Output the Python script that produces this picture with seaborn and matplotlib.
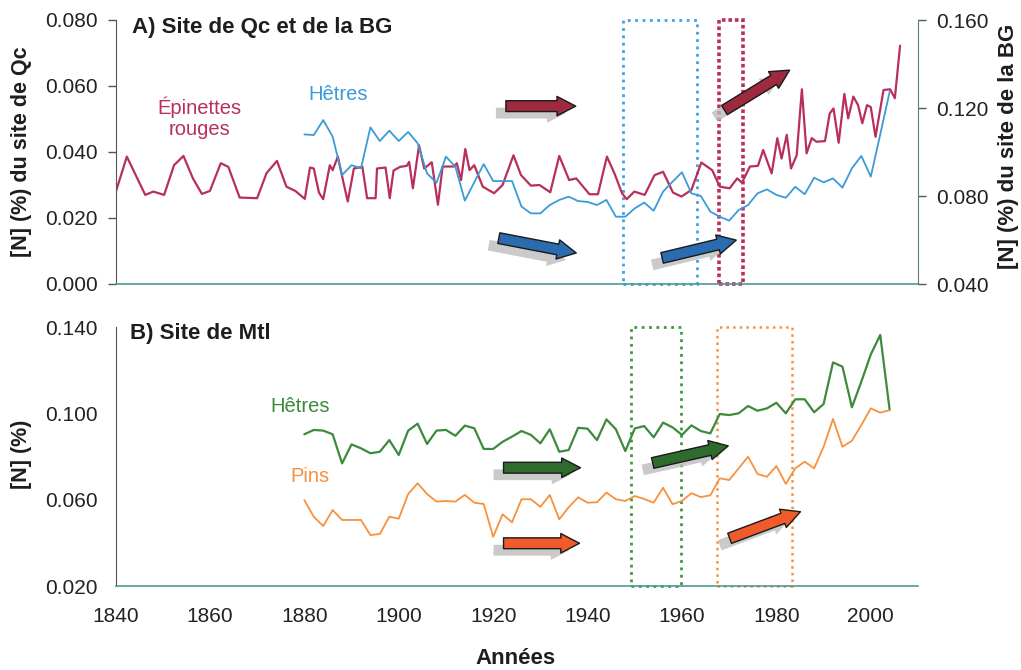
import matplotlib
matplotlib.use("Agg")
import matplotlib.pyplot as plt
import seaborn as sns
import numpy as np
from matplotlib.patches import FancyArrowPatch
from matplotlib.ticker import FormatStrFormatter
from matplotlib.transforms import offset_copy

# ---------------- Panel A : Qc site (red spruce) and BG site (beech) ----------------
spruce_years = [1840.0, 1842.4, 1846.3, 1848.0, 1850.3, 1852.4, 1854.4, 1856.4, 1858.3, 1860.0,
                1862.3, 1863.9, 1866.3, 1870.0, 1872.0, 1874.2, 1876.2, 1878.1, 1880.1, 1881.2,
                1882.0, 1883.1, 1884.0, 1885.4, 1886.0, 1887.1, 1888.3, 1889.2, 1890.5, 1892.3,
                1893.3, 1895.1, 1895.4, 1897.2, 1898.1, 1898.9, 1900.3, 1901.7, 1902.2, 1903.0,
                1904.3, 1905.4, 1907.0, 1908.3, 1909.3, 1911.7, 1912.3, 1913.2, 1914.1, 1915.0,
                1916.0, 1917.8, 1920.2, 1922.0, 1924.3, 1925.9, 1928.0, 1929.8, 1932.1, 1934.0,
                1936.1, 1937.6, 1940.4, 1942.2, 1944.1, 1945.7, 1947.3, 1948.3, 1949.9, 1952.1,
                1954.2, 1956.0, 1958.1, 1959.9, 1962.0, 1964.1, 1966.4, 1968.0, 1970.1, 1971.7,
                1972.7, 1974.4, 1976.1, 1977.2, 1979.0, 1980.2, 1981.1, 1982.2, 1983.1, 1984.3,
                1985.4, 1986.4, 1987.5, 1988.5, 1990.3, 1991.3, 1992.1, 1993.2, 1994.4, 1995.2,
                1996.3, 1997.3, 1998.2, 1999.2, 2000.0, 2001.0, 2002.7, 2004.1, 2005.1, 2006.2]
spruce_n = [0.0276, 0.0386, 0.0270, 0.0280, 0.0270, 0.0360, 0.0388, 0.0320, 0.0273, 0.0282,
            0.0366, 0.0355, 0.0262, 0.0260, 0.0336, 0.0373, 0.0295, 0.0282, 0.0258, 0.0353,
            0.0350, 0.0277, 0.0257, 0.0360, 0.0345, 0.0386, 0.0307, 0.0250, 0.0350, 0.0355,
            0.0260, 0.0260, 0.0350, 0.0353, 0.0260, 0.0344, 0.0355, 0.0358, 0.0370, 0.0290,
            0.0420, 0.0350, 0.0369, 0.0240, 0.0356, 0.0356, 0.0366, 0.0315, 0.0409, 0.0345,
            0.0360, 0.0295, 0.0275, 0.0300, 0.0390, 0.0330, 0.0298, 0.0300, 0.0278, 0.0388,
            0.0315, 0.0320, 0.0272, 0.0272, 0.0386, 0.0335, 0.0275, 0.0257, 0.0280, 0.0270,
            0.0330, 0.0340, 0.0277, 0.0265, 0.0285, 0.0368, 0.0345, 0.0295, 0.0290, 0.0320,
            0.0307, 0.0356, 0.0358, 0.0406, 0.0335, 0.0442, 0.0380, 0.0452, 0.0350, 0.0390,
            0.0590, 0.0396, 0.0442, 0.0431, 0.0433, 0.0517, 0.0532, 0.0428, 0.0576, 0.0502,
            0.0568, 0.0542, 0.0487, 0.0542, 0.0536, 0.0446, 0.0588, 0.0590, 0.0563, 0.0722]

beech_years = list(range(1880, 2005, 2))
beech_bg_n = [0.1080, 0.1077, 0.1145, 0.1070, 0.0895, 0.0940, 0.0926, 0.1112, 0.1050, 0.1097,
              0.1050, 0.1091, 0.1040, 0.0903, 0.0860, 0.0979, 0.0933, 0.0779, 0.0862, 0.0945,
              0.0868, 0.0868, 0.0868, 0.0752, 0.0721, 0.0721, 0.0759, 0.0782, 0.0797, 0.0777,
              0.0773, 0.0759, 0.0782, 0.0706, 0.0706, 0.0744, 0.0770, 0.0733, 0.0820, 0.0865,
              0.0908, 0.0812, 0.0800, 0.0729, 0.0706, 0.0688, 0.0736, 0.0759, 0.0812, 0.0830,
              0.0805, 0.0792, 0.0842, 0.0808, 0.0883, 0.0862, 0.0880, 0.0838, 0.0926, 0.0982,
              0.0888, 0.1080, 0.1274]

# ---------------- Panel B : Mtl site (beech and pine) ----------------
mtl_years = list(range(1880, 2005, 2))
beech_mtl_n = [0.0903, 0.0923, 0.0920, 0.0903, 0.0768, 0.0856, 0.0838, 0.0815, 0.0822, 0.0876,
               0.0807, 0.0920, 0.0952, 0.0858, 0.0920, 0.0923, 0.0896, 0.0943, 0.0931, 0.0835,
               0.0835, 0.0868, 0.0892, 0.0918, 0.0900, 0.0861, 0.0926, 0.0822, 0.0830, 0.0933,
               0.0929, 0.0876, 0.0972, 0.0926, 0.0825, 0.0930, 0.0941, 0.0889, 0.0957, 0.0935,
               0.0900, 0.0944, 0.0918, 0.0907, 0.0997, 0.0992, 0.1000, 0.1034, 0.1012, 0.1023,
               0.1049, 0.1000, 0.1065, 0.1065, 0.1005, 0.1043, 0.1236, 0.1216, 0.1028, 0.1147,
               0.1273, 0.1363, 0.1015]
pine_mtl_n = [0.0598, 0.0521, 0.0478, 0.0552, 0.0506, 0.0506, 0.0506, 0.0436, 0.0441, 0.0521,
              0.0512, 0.0626, 0.0676, 0.0626, 0.0591, 0.0594, 0.0591, 0.0622, 0.0586, 0.0580,
              0.0428, 0.0532, 0.0495, 0.0602, 0.0602, 0.0567, 0.0622, 0.0509, 0.0565, 0.0611,
              0.0586, 0.0588, 0.0633, 0.0602, 0.0594, 0.0617, 0.0603, 0.0586, 0.0655, 0.0579,
              0.0594, 0.0630, 0.0612, 0.0620, 0.0699, 0.0691, 0.0745, 0.0799, 0.0719, 0.0706,
              0.0756, 0.0673, 0.0745, 0.0776, 0.0745, 0.0845, 0.0974, 0.0845, 0.0873, 0.0946,
              0.1023, 0.1003, 0.1015]

year_ticks = [1840, 1860, 1880, 1900, 1920, 1940, 1960, 1980, 2000]
qc_ticks = [0.000, 0.020, 0.040, 0.060, 0.080]
bg_ticks = [0.040, 0.080, 0.120, 0.160]
mtl_ticks = [0.020, 0.060, 0.100, 0.140]

# Highlighted periods (start year, end year)
span_beech_bg = (1947.5, 1963.2)
span_spruce = (1967.8, 1973.0)
span_beech_mtl = (1949.2, 1959.7)
span_pine = (1967.5, 1983.4)

# Trend arrows: (start year, start value), (end year, end value), fill colour
arrows_a = [((1922.7, 0.0539), (1937.5, 0.0539), "#9e2a3e"),
            ((1969.0, 0.0527), (1982.8, 0.0648), "#9e2a3e"),
            ((1921.2, 0.0139), (1937.6, 0.0094), "#2b6cb0"),
            ((1955.8, 0.0079), (1971.5, 0.0133), "#2b6cb0")]
arrows_b = [((1922.2, 0.0748), (1938.5, 0.0748), "#2e6b2e"),
            ((1953.8, 0.0770), (1969.8, 0.0849), "#2e6b2e"),
            ((1922.2, 0.0398), (1938.3, 0.0398), "#f15a2b"),
            ((1970.1, 0.0421), (1985.1, 0.0544), "#f15a2b")]

RED = "#b8305a"
BLUE = "#3b9bd8"
GREEN = "#3d8a3d"
ORANGE = "#f7913d"
SPINE = "#555555"
BASE = "#4d9a96"

sns.set_style("white")
plt.rcParams['font.family'] = ['Liberation Sans', 'DejaVu Sans']

W_PX, H_PX = 1021, 670
fig = plt.figure(figsize=(W_PX / 100, H_PX / 100), dpi=100)
left = 115.5 / W_PX
width = (918 - 115.5) / W_PX
ax_a = fig.add_axes([left, 1 - 284 / H_PX, width, 264 / H_PX])
ax_b = fig.add_axes([left, 1 - 586 / H_PX, width, 259 / H_PX])
ax_a2 = ax_a.twinx()

# lines
sns.lineplot(x=spruce_years, y=spruce_n, ax=ax_a, color=RED, linewidth=1.6, legend=False)
sns.lineplot(x=beech_years, y=beech_bg_n, ax=ax_a2, color=BLUE, linewidth=1.3, legend=False)
sns.lineplot(x=mtl_years, y=beech_mtl_n, ax=ax_b, color=GREEN, linewidth=1.6, legend=False)
sns.lineplot(x=mtl_years, y=pine_mtl_n, ax=ax_b, color=ORANGE, linewidth=1.3, legend=False)

# dotted period boxes
ax_a.axvspan(*span_beech_bg, fill=False, edgecolor="#3aa3e3", linestyle=":", linewidth=2.0, clip_on=False, zorder=1)
ax_a.axvspan(*span_spruce, fill=False, edgecolor="#b8305a", linestyle=(0, (1, 0.8)), linewidth=2.6, clip_on=False, zorder=1)
ax_b.axvspan(*span_beech_mtl, fill=False, edgecolor="#3d9a3d", linestyle=":", linewidth=2.0, clip_on=False, zorder=1)
ax_b.axvspan(*span_pine, fill=False, edgecolor="#f7913d", linestyle=":", linewidth=1.8, clip_on=False, zorder=1)


def trend_arrow(host, tr, p0, p1, face):
    style = "simple,head_width=1.4,head_length=1.35,tail_width=0.78"
    shadow_tr = offset_copy(tr, fig=fig, x=-10, y=-7, units='dots')
    shadow = FancyArrowPatch(p0, p1, arrowstyle=style, mutation_scale=10, transform=shadow_tr,
                             facecolor="#bdbdbd", edgecolor="none", alpha=0.8,
                             shrinkA=0, shrinkB=0, zorder=8)
    arrow = FancyArrowPatch(p0, p1, arrowstyle=style, mutation_scale=10, transform=tr,
                            facecolor=face, edgecolor="#1a1a1a", linewidth=1.0,
                            shrinkA=0, shrinkB=0, zorder=9)
    host.add_patch(shadow)
    host.add_patch(arrow)


for p0, p1, c in arrows_a:
    trend_arrow(ax_a2, ax_a.transData, p0, p1, c)
for p0, p1, c in arrows_b:
    trend_arrow(ax_b, ax_b.transData, p0, p1, c)

# axes limits and ticks
for ax in (ax_a, ax_a2, ax_b):
    ax.set_xlim(1840, 2010)
    ax.set_xticks(year_ticks)
    ax.set_xlabel("")
    ax.set_ylabel("")
ax_a.set_ylim(0.0, 0.080)
ax_a.set_yticks(qc_ticks)
ax_a2.set_ylim(0.040, 0.160)
ax_a2.set_yticks(bg_ticks)
ax_b.set_ylim(0.020, 0.140)
ax_b.set_yticks(mtl_ticks)
for ax in (ax_a, ax_a2, ax_b):
    ax.yaxis.set_major_formatter(FormatStrFormatter("%.3f"))
ax_a.tick_params(axis="x", labelbottom=False)

for ax in (ax_a, ax_a2, ax_b):
    ax.tick_params(axis="both", direction="out", length=6, width=1.0, colors=SPINE,
                   labelcolor="#222222", labelsize=15, pad=7)
    ax.patch.set_alpha(0)
    ax.spines["top"].set_visible(False)
    ax.spines["bottom"].set_color(BASE)
    ax.spines["bottom"].set_linewidth(1.2)
    ax.spines["left"].set_color(SPINE)
    ax.spines["right"].set_color("#5b7f7f")
ax_a.spines["right"].set_visible(False)
ax_b.spines["right"].set_visible(False)
ax_a2.spines["left"].set_visible(False)
ax_a2.spines["bottom"].set_visible(False)
ax_b.tick_params(axis="x", pad=9)

# panel titles and series labels
fig.text(131.7 / W_PX, 1 - 28 / H_PX, "A) Site de Qc et de la BG", fontsize=16, fontweight="bold",
         color="#1e1e1e", ha="left", va="center")
fig.text(130 / W_PX, 1 - 333 / H_PX, "B) Site de Mtl", fontsize=16, fontweight="bold",
         color="#1e1e1e", ha="left", va="center")
fig.text(199 / W_PX, 1 - 118 / H_PX, "Épinettes\nrouges", fontsize=14.5, color=RED,
         ha="center", va="center", linespacing=1.15)
fig.text(338 / W_PX, 1 - 95 / H_PX, "Hêtres", fontsize=14.5, color=BLUE, ha="center", va="center")
fig.text(300 / W_PX, 1 - 407 / H_PX, "Hêtres", fontsize=14.5, color=GREEN, ha="center", va="center")
fig.text(310 / W_PX, 1 - 476 / H_PX, "Pins", fontsize=14.5, color=ORANGE, ha="center", va="center")

# axis titles
fig.text(22 / W_PX, 1 - 152 / H_PX, "[N] (%) du site de Qc", rotation=90, fontsize=15.5,
         fontweight="bold", color="#1e1e1e", ha="center", va="center")
fig.text(1008 / W_PX, 1 - 146 / H_PX, "[N] (%) du site de la BG", rotation=90, fontsize=16,
         fontweight="bold", color="#1e1e1e", ha="center", va="center")
fig.text(22 / W_PX, 1 - 454 / H_PX, "[N] (%)", rotation=90, fontsize=15.5,
         fontweight="bold", color="#1e1e1e", ha="center", va="center")
fig.text(515 / W_PX, 1 - 658 / H_PX, "Années", fontsize=16, fontweight="bold",
         color="#1e1e1e", ha="center", va="center")

fig.savefig("out.png", dpi=100, facecolor="white")
